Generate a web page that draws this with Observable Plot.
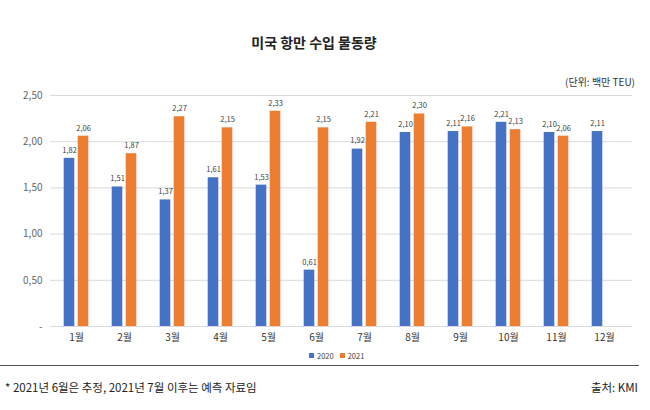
<!DOCTYPE html>
<html><head><meta charset="utf-8">
<script src="https://cdn.jsdelivr.net/npm/d3@7"></script>
<script src="https://cdn.jsdelivr.net/npm/@observablehq/plot@0.6"></script>
<style>
html,body{margin:0;padding:0;background:#fff;}
#wrap{position:relative;width:650px;height:410px;font-family:"Noto Sans CJK KR","Noto Sans",sans-serif;color:#222;overflow:hidden;}
.abs{position:absolute;white-space:nowrap;}
</style></head>
<body><div id="wrap"></div>
<script>
const months = ["1월","2월","3월","4월","5월","6월","7월","8월","9월","10월","11월","12월"];
const v2020 = [1.82,1.51,1.37,1.61,1.53,0.61,1.92,2.10,2.11,2.21,2.10,2.11];
const v2021 = [2.06,1.87,2.27,2.15,2.33,2.15,2.21,2.30,2.16,2.13,2.06];
const yTicks = [0,0.5,1,1.5,2,2.5];
const seriesNames = ["2020","2021"];
const colors = ["#4472C4","#ED7D31"];
const title = "미국 항만 수입 물동량";
const unitText = "(단위: 백만 TEU)";
const footnote = "* 2021년 6월은 추정, 2021년 7월 이후는 예측 자료임";
const source = "출처: KMI";

const d20 = v2020.map((v,i)=>({month:months[i], value:v}));
const d21 = v2021.map((v,i)=>({month:months[i], value:v}));
const fmt = v => v === 0 ? "-" : d3.format(".2f")(v).replace(".", ",");

const wrap = document.getElementById("wrap");
function addText(txt, css){ const d=document.createElement("div"); d.className="abs"; d.textContent=txt; Object.assign(d.style, css); wrap.appendChild(d); return d; }

addText(title, {left:"0", width:"628px", textAlign:"center", top:"32px", fontSize:"14px", fontWeight:"700", color:"#222"});
addText(unitText, {right:"15px", top:"74px", fontSize:"10px", color:"#333"});

const chart = Plot.plot({
  width: 650, height: 270,
  marginTop: 15, marginBottom: 24, marginLeft: 50, marginRight: 18,
  style: {fontFamily: '"Noto Sans CJK KR","Noto Sans",sans-serif', background: "transparent"},
  x: {domain: months, range: [51, 628], padding: 0},
  y: {domain: [0, 2.5]},
  marks: [
    Plot.ruleY(yTicks, {stroke: "#d9d9d9", strokeWidth: 1}),
    Plot.axisY({ticks: yTicks, tickFormat: fmt, tickSize: 0, tickPadding: 8, fontSize: 10, fill: "#666", label: null}),
    Plot.axisX({tickSize: 0, tickPadding: 7, fontSize: 10, fill: "#333", label: null}),
    Plot.barY(d20, {x: "month", y: "value", fill: colors[0], insetLeft: 11.7, insetRight: 25.7}),
    Plot.barY(d21, {x: "month", y: "value", fill: colors[1], insetLeft: 25.7, insetRight: 11.7}),
    Plot.text(d20, {x: "month", y: "value", text: d => fmt(d.value), dx: -7, dy: -8, fontSize: 7.5, fill: "#404040"}),
    Plot.text(d21, {x: "month", y: "value", text: d => fmt(d.value), dx: 7, dy: -8, fontSize: 7.5, fill: "#404040"})
  ]
});
chart.style.position = "absolute";
chart.style.left = "0px";
chart.style.top = "80px";
wrap.appendChild(chart);

// legend
const leg = document.createElement("div");
leg.className = "abs";
Object.assign(leg.style, {left:"309px", top:"350px", display:"flex", alignItems:"center", fontSize:"7.5px", color:"#404040"});
seriesNames.forEach((n,i)=>{
  const sw = document.createElement("span");
  Object.assign(sw.style, {display:"inline-block", width:"5px", height:"5px", background:colors[i], marginRight:"3px", marginLeft: i? "6px":"0"});
  const t = document.createElement("span"); t.textContent = n;
  leg.appendChild(sw); leg.appendChild(t);
});
wrap.appendChild(leg);

// separator
const sep = document.createElement("div");
sep.className = "abs";
Object.assign(sep.style, {left:"0px", top:"365px", width:"639px", height:"0", borderTop:"1.5px solid #555"});
wrap.appendChild(sep);

addText(footnote, {left:"5px", top:"379px", fontSize:"11.5px", color:"#222"});
addText(source, {right:"12px", top:"379px", fontSize:"11.5px", color:"#222"});
</script></body></html>
